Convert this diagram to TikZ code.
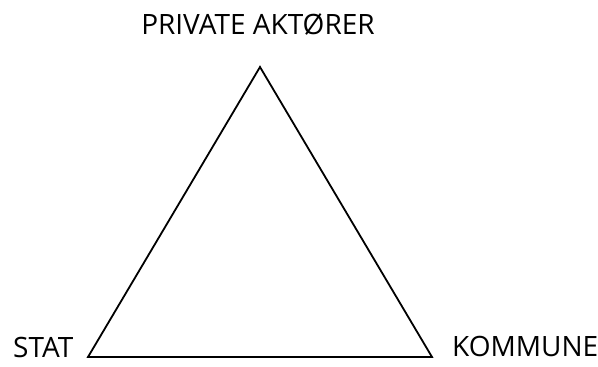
\documentclass[tikz,border=0pt]{standalone}
\usepackage{fontspec}
\setmainfont{Open Sans}
\begin{document}
\begin{tikzpicture}[x=1pt,y=1pt,
  lbl/.style={inner sep=0pt,font=\fontsize{28}{32}\selectfont},
  tri/.style={draw=black,line width=1.8pt,line join=miter}]
\useasboundingbox (0,0) rectangle (598,367);
\coordinate (apex) at (260,300);
\coordinate (bl) at (88,10);
\coordinate (br) at (432,10);
\draw[tri] (apex) -- (bl) -- (br) -- cycle;
\node[lbl,anchor=base] (priv) at (258,332) {PRIVATE AKTØRER};
\node[lbl,anchor=base west] (stat) at (13,9) {STAT};
\node[lbl,anchor=base west] (komm) at (452,10) {KOMMUNE};
\end{tikzpicture}
\end{document}
